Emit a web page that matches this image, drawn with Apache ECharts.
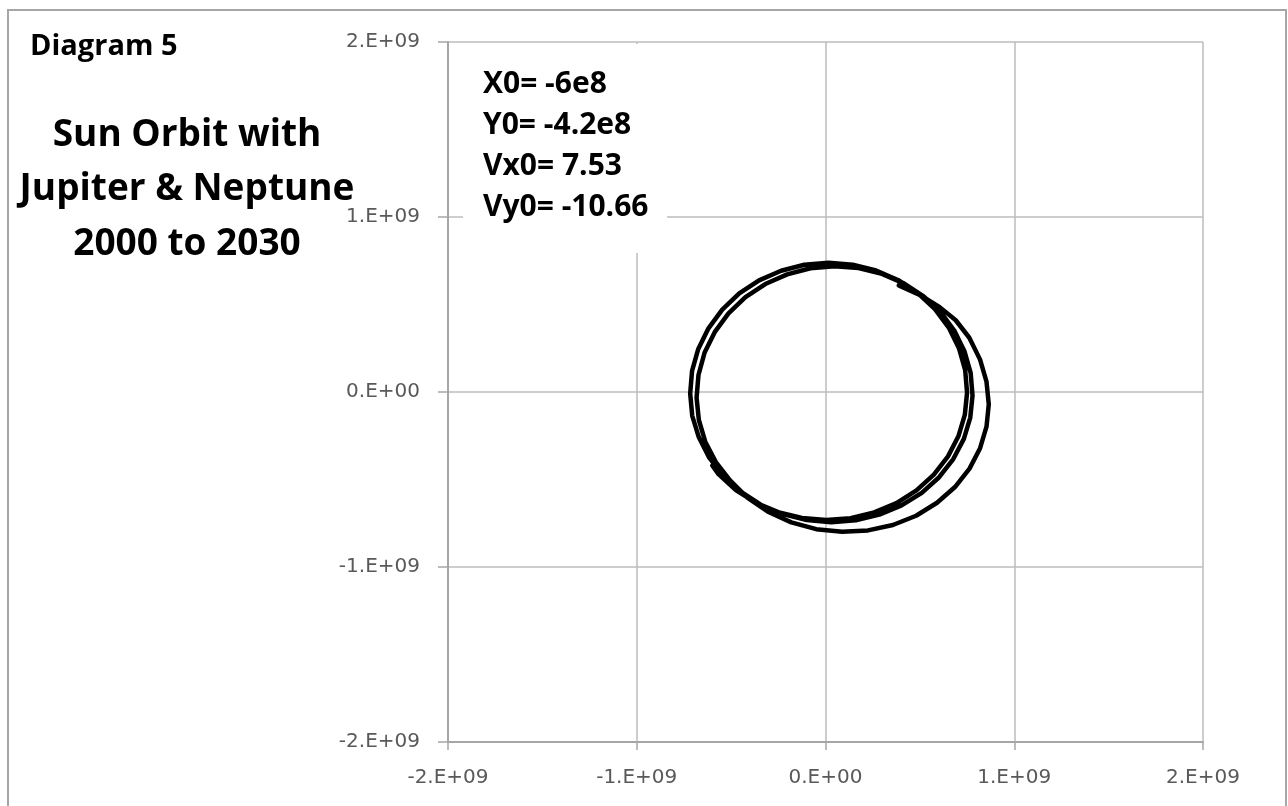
<!DOCTYPE html>
<html>
<head>
<meta charset="utf-8">
<script src="https://cdn.jsdelivr.net/npm/echarts@6/dist/echarts.min.js"></script>
<style>
  html, body { margin: 0; padding: 0; background: #fff; }
  #main { width: 1288px; height: 806px; }
</style>
</head>
<body>
<div id="main"></div>
<script>
// axis ticks
var tickValues = [-2e9, -1e9, 0, 1e9, 2e9];
var tickLabels = ['-2.E+09', '-1.E+09', '0.E+00', '1.E+09', '2.E+09'];

// sun position, in units of 1e8 m
// first loop
var orbitX1 = [-6.00, -5.67, -4.75, -3.68, -2.51, -1.25, 0.04, 1.33, 2.58, 3.76, 4.82, 5.74, 6.49, 7.04, 7.38, 7.50,
    7.40, 7.07, 6.53, 5.80, 4.89, 3.84, 2.68, 1.44, 0.16, -1.12, -2.35, -3.52, -4.57, -5.47, -6.20, -6.74, -7.07, -7.17,
    -7.06, -6.71, -6.16];
var orbitY1 = [-4.20, -4.69, -5.60, -6.33, -6.87, -7.20, -7.32, -7.21, -6.88, -6.35, -5.62, -4.72, -3.68, -2.53, -1.31, -0.04,
    1.25, 2.50, 3.68, 4.74, 5.65, 6.40, 6.94, 7.27, 7.39, 7.27, 6.93, 6.38, 5.63, 4.71, 3.64, 2.46, 1.21, -0.09,
    -1.36, -2.59, -3.75];
// second loop
var orbitX2 = [-5.41, -4.49, -3.43, -2.25, -0.99, 0.30, 1.60, 2.85, 4.03, 5.10, 6.02, 6.77, 7.33, 7.67, 7.79,
    7.69, 7.36, 6.83, 6.10, 5.20, 4.15, 2.99, 1.75, 0.48, -0.80, -2.03, -3.19, -4.24, -5.14, -5.87, -6.41, -6.73, -6.83,
    -6.71, -6.37, -5.81];
var orbitY2 = [-4.80, -5.70, -6.44, -6.98, -7.32, -7.44, -7.33, -7.01, -6.48, -5.76, -4.87, -3.83, -2.68, -1.46, -0.20,
    1.09, 2.33, 3.50, 4.56, 5.47, 6.21, 6.75, 7.08, 7.19, 7.07, 6.72, 6.17, 5.42, 4.49, 3.42, 2.24, 0.97, -0.33,
    -1.60, -2.84, -4.00];
// last part loop, ends top right
var orbitX3 = [-5.07, -4.14, -3.05, -1.81, -0.49, 0.88, 2.25, 3.57, 4.80, 5.91, 6.86, 7.63, 8.19, 8.53, 8.65,
    8.53, 8.19, 7.62, 6.90, 6.05, 5.05, 3.88];
var orbitY3 = [-5.04, -6.03, -6.84, -7.45, -7.84, -7.99, -7.91, -7.60, -7.07, -6.33, -5.43, -4.38, -3.21, -1.98, -0.70,
    0.59, 1.85, 3.10, 4.10, 4.85, 5.52, 6.09];

var titleLines = ['Sun Orbit with', 'Jupiter & Neptune', '2000 to 2030'];
var startLines = ['X0= -6e8', 'Y0= -4.2e8', 'Vx0= 7.53', 'Vy0= -10.66'];

var orbitData = [];
function addLoop(xs, ys) {
    for (var i = 0; i < xs.length; i++) {
        orbitData.push([xs[i] * 1e8, ys[i] * 1e8]);
    }
}
addLoop(orbitX1, orbitY1);
addLoop(orbitX2, orbitY2);
addLoop(orbitX3, orbitY3);

function tickText(v) {
    for (var i = 0; i < tickValues.length; i++) {
        if (Math.abs(tickValues[i] - v) < 1) return tickLabels[i];
    }
    return '';
}

var boldFont = '"Open Sans", "DejaVu Sans", sans-serif';
var labelFont = '"DejaVu Sans", sans-serif';

var graphics = [];
// outer chart border
graphics.push({
    type: 'rect', z: 0,
    shape: { x: 8, y: 10, width: 1278, height: 810 },
    style: { fill: '#fff', stroke: '#a6a6a6', lineWidth: 2 }
});
graphics.push({
    type: 'text', z: 10, x: 30, y: 47,
    style: { text: 'Diagram 5', font: 'bold 29px ' + boldFont, fill: '#000', verticalAlign: 'middle' }
});
for (var t = 0; t < titleLines.length; t++) {
    graphics.push({
        type: 'text', z: 10,
        x: 187, y: 135 + t * 54.5,
        style: {
            text: titleLines[t], font: 'bold 37px ' + boldFont, fill: '#000',
            align: 'center', verticalAlign: 'middle'
        }
    });
}
// white text box with the starting values
graphics.push({
    type: 'rect', z: 5,
    shape: { x: 463, y: 44, width: 204, height: 209 },
    style: { fill: '#fff', stroke: null }
});
for (var s = 0; s < startLines.length; s++) {
    graphics.push({
        type: 'text', z: 10,
        x: 483, y: 84 + s * 41,
        style: {
            text: startLines[s], font: 'bold 30px ' + boldFont, fill: '#000',
            align: 'left', verticalAlign: 'middle'
        }
    });
}

var chart = echarts.init(document.getElementById('main'));
chart.setOption({
    backgroundColor: 'transparent',
    animation: false,
    grid: { left: 448, right: 85, top: 42, bottom: 64 },
    xAxis: {
        type: 'value', min: -2e9, max: 2e9, interval: 1e9,
        axisLine: { onZero: false, lineStyle: { color: '#a6a6a6', width: 2 } },
        axisTick: { show: true, inside: false, length: 8, lineStyle: { color: '#a6a6a6', width: 1.5 } },
        splitLine: { show: true, lineStyle: { color: '#bcbcbc', width: 1.5 } },
        axisLabel: {
            margin: 26, color: '#595959', fontSize: 20, fontFamily: labelFont,
            formatter: tickText
        }
    },
    yAxis: {
        type: 'value', min: -2e9, max: 2e9, interval: 1e9,
        axisLine: { onZero: false, lineStyle: { color: '#a6a6a6', width: 2 } },
        axisTick: { show: true, inside: false, length: 10, lineStyle: { color: '#a6a6a6', width: 1.5 } },
        splitLine: { show: true, lineStyle: { color: '#bcbcbc', width: 1.5 } },
        axisLabel: {
            margin: 28, color: '#595959', fontSize: 20, fontFamily: labelFont,
            formatter: tickText
        }
    },
    series: [{
        type: 'line',
        data: orbitData,
        smooth: false,
        showSymbol: false,
        symbol: 'none',
        lineStyle: { color: '#000', width: 4.5, join: 'round', cap: 'round' },
        z: 3
    }],
    graphic: graphics
});
</script>
</body>
</html>
